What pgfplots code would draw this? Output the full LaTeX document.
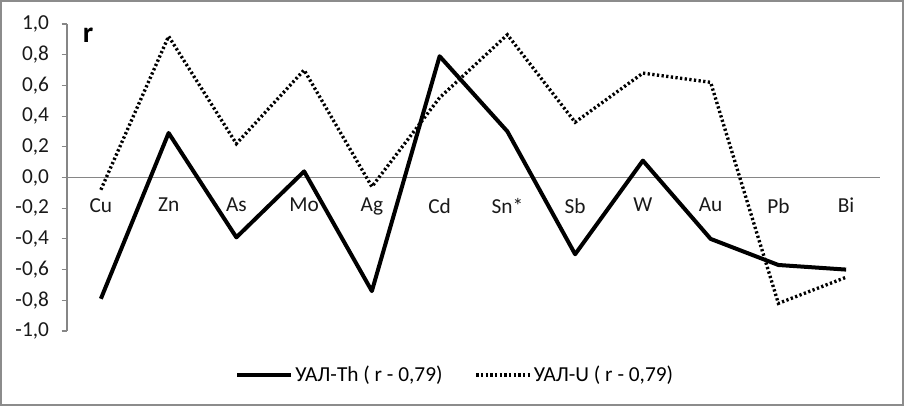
\documentclass[border=0pt]{standalone}
\usepackage{fontspec}
\setmainfont{Carlito}
\usepackage{pgfplots}
\pgfplotsset{compat=1.18}
\definecolor{axisgray}{HTML}{868686}
\definecolor{framegray}{HTML}{8C8C8C}

\begin{document}
\begin{tikzpicture}[x=1pt,y=1pt]
\useasboundingbox (0,0) rectangle (678,304.5);
\draw[framegray, line width=1.5pt] (0.75,0.75) rectangle (677.25,303.75);
\begin{axis}[at={(50.25pt,56.25pt)}, anchor=south west,
  scale only axis, width=609.75pt, height=230.25pt,
  xmin=0.5, xmax=12.5, ymin=-1, ymax=1,
  axis x line=middle, axis y line=left,
  axis line style={-, axisgray, line width=0.8pt},
  xtick={1,...,12},
  xticklabels={Cu,Zn,As,Mo,Ag,Cd,Sn*,Sb,W,Au,Pb,Bi},
  x tick style={draw=none},
  x tick label style={yshift=-8pt},
  extra x ticks={0.5,1.5,...,12.5}, extra x tick labels={},
  extra x tick style={tick align=outside, major tick length=4pt,
    tick style={axisgray, line width=0.8pt}},
  ytick={-1,-0.8,...,1.01},
  y tick style={axisgray, line width=0.8pt},
  yticklabel style={xshift=-6pt},
  tick align=outside, major tick length=4pt,
  yticklabel style={/pgf/number format/.cd, use comma, fixed, fixed zerofill, precision=1, assume math mode=true},
  tick label style={font=\fontsize{16}{18}\selectfont, text=black!90},
  legend style={at={(0.478,-0.143)}, anchor=center, draw=none, fill=none,
    font=\fontsize{16}{18}\selectfont, legend columns=2,
    /tikz/every even column/.append style={column sep=22pt}},
  legend cell align=left,
  legend image code/.code={\draw[#1] (0pt,0pt) -- (40pt,0pt);},
  clip=false]
\addplot[black, line width=3pt, line join=round] coordinates {(1,-0.79) (2,0.29) (3,-0.39) (4,0.04) (5,-0.74) (6,0.79) (7,0.30) (8,-0.50) (9,0.11) (10,-0.40) (11,-0.57) (12,-0.60)};
\addlegendentry{УАЛ-Th ( r - 0,79)}
\addplot[black, line width=2.5pt, line cap=butt, dash pattern=on 1.7pt off 1.8pt] coordinates {(1,-0.08) (2,0.92) (3,0.22) (4,0.70) (5,-0.06) (6,0.52) (7,0.93) (8,0.36) (9,0.68) (10,0.62) (11,-0.82) (12,-0.65)};
\addlegendentry{УАЛ-U ( r - 0,79)}
\end{axis}
\node[font=\fontsize{22}{24}\selectfont\bfseries] at (66,278) {r};
\end{tikzpicture}
\end{document}
